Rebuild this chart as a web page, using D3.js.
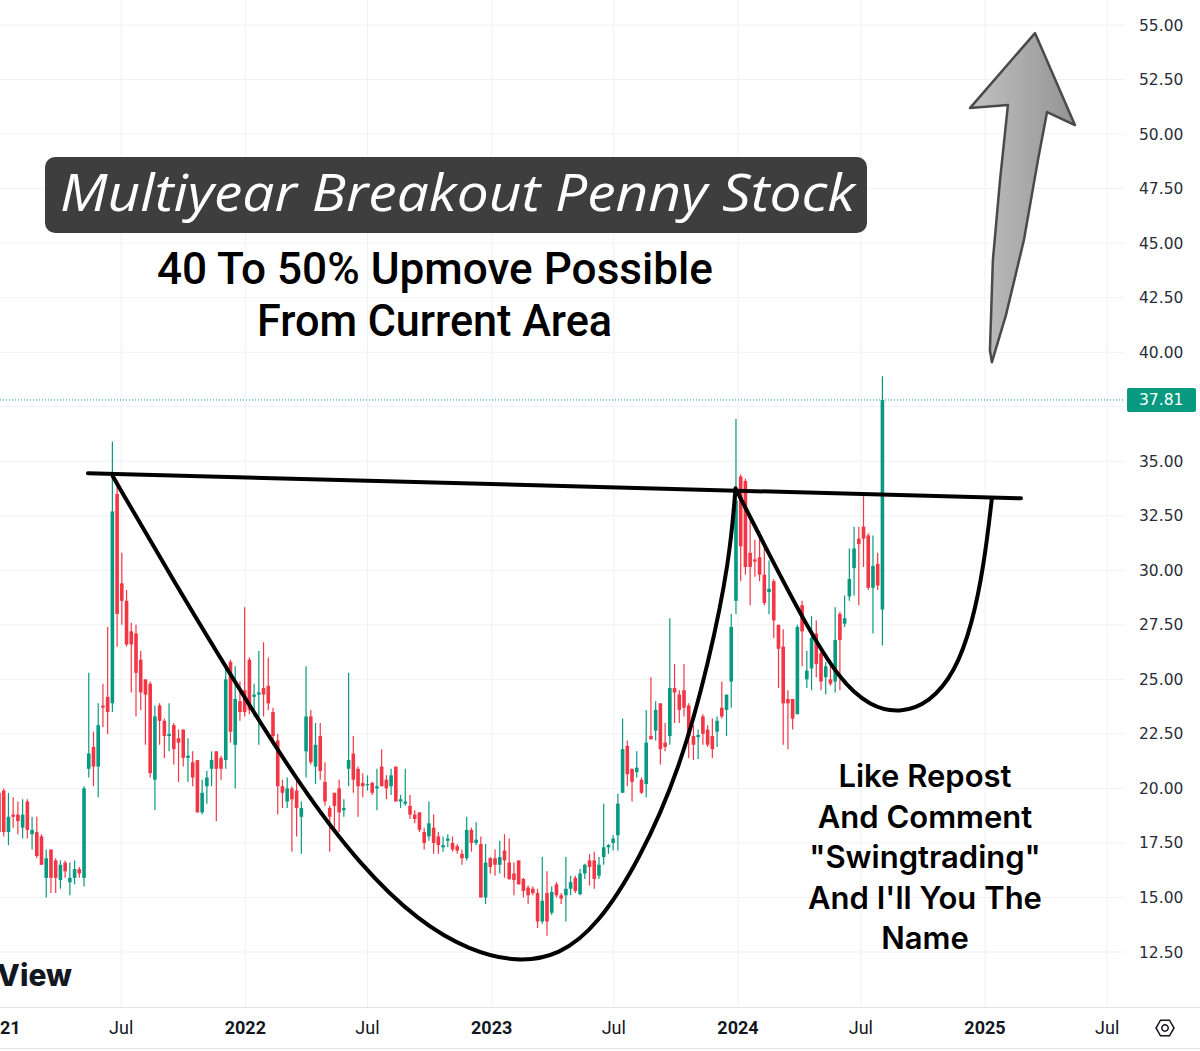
<!DOCTYPE html>
<html>
<head>
<meta charset="utf-8">
<script src="https://cdn.jsdelivr.net/npm/d3@7"></script>
<style>
  body { margin: 0; background: #fff; }
  svg { display: block; }
</style>
</head>
<body>
<script>
// weekly candles, first week starts 1 Jan 2021
var startDay = new Date(2021, 0, 1);

var opens = [19.8,19.9,18.0,18.8,18.8,18.2,19.4,17.9,18.0,17.8,15.9,17.2,16.7,15.8,16.6,15.7,15.9,16.3,15.9,20.9,
  21.9,21.0,23.8,24.2,23.9,33.5,29.4,28.6,27.2,27.1,25.9,25.0,24.8,20.4,23.8,23.1,22.4,22.9,22.3,22.7,
  21.4,21.2,21.3,18.9,20.1,20.9,21.7,21.4,21.3,25.8,22.0,24.0,24.5,25.9,24.2,24.3,24.6,24.7,23.5,22.2,
  20.1,19.4,20.0,19.9,18.7,21.7,23.3,21.0,22.4,20.3,19.1,19.8,20.0,19.0,20.9,21.6,20.9,20.25,20.15,20.25,
  20.0,21.0,20.4,20.1,21.0,19.4,19.3,19.2,18.8,18.9,18.0,17.8,18.2,17.8,17.3,17.6,17.5,17.35,17.0,16.8,
  18.1,17.5,17.45,15.0,16.8,16.8,16.5,17.15,16.6,16.1,16.7,15.85,15.45,15.4,15.2,13.9,15.2,14.3,15.6,15.1,
  15.1,15.4,15.9,15.15,16.1,16.7,16.7,16.0,16.85,17.3,17.5,17.85,19.8,21.95,20.9,20.75,20.4,20.2,22.4,22.65,
  23.9,22.1,22.4,24.6,24.3,24.5,23.8,22.4,22.35,23.3,22.7,22.4,22.6,23.7,23.6,24.9,28.6,34.3,34.1,30.8,
  30.5,30.6,29.8,29.0,29.5,27.5,26.5,24.1,24.1,23.4,28.4,25.0,25.5,27.1,26.2,25.1,25.0,24.9,28.0,27.55,
  28.8,30.1,31.45,32.0,31.6,29.2,30.3,28.2];
var highs = [20.0,20.0,19.8,19.6,19.4,19.5,19.5,18.7,18.7,17.9,17.2,17.2,16.8,16.7,16.7,16.6,16.7,16.4,20.1,25.3,
  22.6,23.9,24.8,27.4,35.9,34.1,30.8,29.1,27.6,27.5,26.3,25.0,24.9,23.8,23.9,23.2,23.9,23.0,22.7,22.7,
  22.3,21.7,21.3,20.4,20.8,21.7,21.7,21.5,25.7,25.9,25.6,24.9,28.3,26.0,24.8,26.3,26.7,26.0,23.7,22.5,
  20.4,20.5,20.1,20.4,19.4,25.6,23.6,23.0,23.0,21.2,19.2,19.8,20.4,19.5,25.3,22.4,21.0,20.7,20.6,20.3,
  20.9,21.8,20.6,20.9,21.0,19.7,20.9,19.7,19.0,18.9,18.2,19.4,18.8,18.0,17.8,17.9,17.8,17.45,17.2,18.7,
  18.2,18.45,17.8,17.45,16.85,17.2,17.6,17.9,17.7,16.6,16.7,15.9,15.55,15.5,15.4,16.85,16.2,15.5,15.7,15.2,
  16.85,16.0,16.0,16.3,16.55,17.0,17.1,16.85,19.3,17.45,17.85,19.75,23.2,22.2,20.9,21.7,20.5,23.6,25.1,24.0,
  23.9,23.0,27.8,25.7,24.5,25.7,23.9,22.9,22.7,23.4,22.9,23.2,23.3,24.9,24.3,28.0,36.95,34.4,34.2,32.4,
  31.4,31.8,31.2,30.45,29.6,27.5,27.3,24.5,24.1,27.5,28.6,26.3,27.9,27.7,26.5,25.8,25.9,28.3,28.1,28.85,
  31.0,32.0,32.0,33.4,31.7,31.6,30.8,38.9];
var lows = [17.9,17.8,17.4,18.2,17.9,17.7,17.7,17.2,16.8,16.5,15.0,15.2,15.2,15.4,15.9,15.1,15.6,15.9,15.5,20.5,
  20.1,19.6,22.8,22.5,23.5,26.5,27.5,26.5,24.4,23.3,23.6,22.0,20.5,19.0,22.0,21.4,21.7,21.1,20.3,21.0,
  20.3,20.1,18.9,18.8,19.3,20.1,18.5,20.4,20.9,22.1,20.0,23.1,23.3,23.4,23.3,22.0,23.3,23.6,22.2,18.8,
  19.1,19.1,17.1,17.8,17.0,20.5,21.1,20.2,20.4,19.2,17.1,18.2,18.0,18.7,20.1,19.8,18.7,19.6,19.9,19.7,
  19.0,20.1,19.5,19.7,19.4,19.1,19.2,18.6,18.4,18.0,17.2,17.6,17.0,17.0,17.1,17.3,17.1,17.0,16.5,16.7,
  17.1,17.4,15.0,14.7,16.1,16.0,16.1,15.9,15.8,15.1,15.6,15.0,14.7,15.1,13.6,13.8,13.25,14.2,15.0,14.7,
  13.9,15.1,15.2,15.1,15.85,15.55,15.4,15.85,16.5,17.0,17.15,17.15,19.8,20.1,19.4,20.5,19.75,19.6,22.25,22.2,
  21.1,21.7,22.0,23.0,23.0,23.3,21.4,21.3,21.35,22.0,21.9,21.4,21.9,23.2,22.4,23.7,28.0,29.5,29.8,28.4,
  29.7,29.5,28.4,28.0,26.9,24.6,22.0,21.8,22.7,23.4,25.6,24.6,24.5,25.1,24.5,24.3,24.7,24.4,24.5,27.4,
  28.6,28.85,28.4,30.15,29.1,27.1,29.1,26.55];
var closes = [18.0,18.0,18.7,18.7,18.5,18.8,18.1,18.1,16.9,16.5,16.8,15.9,15.9,16.5,16.2,15.9,16.3,16.1,20.0,21.6,
  21.0,22.9,23.7,23.5,32.7,28.0,28.6,26.6,26.6,25.3,24.4,24.3,20.7,23.3,23.1,22.4,22.5,21.8,22.1,21.4,
  21.5,20.5,18.9,19.8,20.5,21.3,20.9,20.9,25.0,22.6,24.1,23.5,23.5,23.6,24.3,24.4,24.3,23.9,22.4,20.1,
  19.8,20.0,19.5,19.1,19.1,23.3,21.2,22.0,20.8,19.4,18.7,19.2,18.9,19.1,21.3,20.4,20.1,20.1,20.2,19.8,
  20.1,20.1,20.0,20.6,19.4,19.5,19.4,18.8,18.6,18.1,17.5,18.4,17.5,17.4,17.4,17.7,17.2,17.15,16.8,18.1,
  17.5,17.65,15.0,16.6,16.4,16.5,16.85,16.7,15.85,15.8,15.6,15.3,15.1,15.2,13.9,14.85,13.9,15.25,15.1,14.95,
  15.4,15.7,15.3,16.1,16.5,16.4,15.85,16.5,17.3,17.4,17.7,19.3,21.8,20.65,20.3,20.95,19.8,22.1,22.25,23.6,
  21.8,21.9,24.6,24.4,23.6,23.7,22.4,22.0,22.45,22.5,22.0,21.8,23.1,23.3,24.3,27.4,33.2,31.1,30.15,30.15,
  30.4,29.8,28.5,29.15,27.7,26.4,23.9,23.9,23.2,27.4,27.2,25.4,26.9,25.7,24.9,25.6,24.8,26.8,26.8,27.8,
  29.6,31.0,31.2,31.45,29.2,30.2,29.3,37.81];

var priceTicks = [12.5,15,17.5,20,22.5,25,27.5,30,32.5,35,37.5,40,42.5,45,47.5,50,52.5,55];
var timeTicks = [[2021,0,"2021"],[2021,6,"Jul"],[2022,0,"2022"],[2022,6,"Jul"],[2023,0,"2023"],[2023,6,"Jul"],
  [2024,0,"2024"],[2024,6,"Jul"],[2025,0,"2025"],[2025,6,"Jul"]];
var lastPrice = 37.81;

// drawn annotations: [decimal year, price]
var resistance = [[2021.361,34.45],[2025.146,33.30]];
var bigCup = [[2021.462,34.31],[2021.714,29.40],[2021.978,24.50],[2022.221,20.14],[2022.465,16.47],[2022.708,13.85],
  [2022.911,12.57],[2023.101,12.02],[2023.276,12.34],[2023.430,13.72],[2023.600,16.70],[2023.763,20.83],
  [2023.884,25.87],[2023.966,30.46],[2023.990,33.76]];
var handle = [[2023.994,33.67],[2024.128,30.69],[2024.270,27.61],[2024.412,24.95],[2024.534,23.76],[2024.655,23.44],
  [2024.777,23.94],[2024.878,25.32],[2024.947,27.48],[2024.996,30.23],[2025.028,33.30]];
var arrowPts = [[2025.203,54.63],[2025.365,50.41],[2025.252,51.01],[2025.215,48.81],[2025.158,45.14],[2025.085,41.70],
  [2025.028,39.54],[2025.020,40.09],[2025.032,44.22],[2025.061,47.89],[2025.093,51.33],[2024.939,51.19]];

var W = 1200, H = 1051;
var paneW = 1125, paneH = 1007;
var upColor = "#089981", downColor = "#f23645";

var x = d3.scaleTime()
    .domain([new Date(2021, 0, 1), new Date(2025, 0, 1)])
    .range([-1, 985]);
var y = d3.scaleLinear()
    .domain([12.5, 55])
    .range([952, 25]);

function yearDate(v) {
  var y0 = Math.floor(v);
  var a = new Date(y0, 0, 1), b = new Date(y0 + 1, 0, 1);
  return new Date(+a + (v - y0) * (b - a));
}

var candles = opens.map(function(o, i) {
  return {date: d3.timeDay.offset(startDay, 7 * i), o: o, h: highs[i], l: lows[i], c: closes[i]};
});

var svg = d3.select("body").append("svg")
    .attr("width", W)
    .attr("height", H)
    .style("font-family", "'DejaVu Sans', sans-serif");

svg.append("defs").append("clipPath").attr("id", "pane")
  .append("rect").attr("x", 0).attr("y", 0).attr("width", paneW).attr("height", paneH);

var pane = svg.append("g").attr("clip-path", "url(#pane)");

// grid
pane.selectAll("line.hgrid").data(priceTicks).enter()
  .append("line")
    .attr("class", "hgrid")
    .attr("x1", 0).attr("x2", paneW)
    .attr("y1", function(d) { return y(d); })
    .attr("y2", function(d) { return y(d); })
    .attr("stroke", "#f0f1f5").attr("stroke-width", 1);

pane.selectAll("line.vgrid").data(timeTicks).enter()
  .append("line")
    .attr("class", "vgrid")
    .attr("x1", function(d) { return x(new Date(d[0], d[1], 1)); })
    .attr("x2", function(d) { return x(new Date(d[0], d[1], 1)); })
    .attr("y1", 0).attr("y2", paneH)
    .attr("stroke", "#f0f1f5").attr("stroke-width", 1);

// last price dotted line
pane.append("line")
    .attr("x1", 0).attr("x2", paneW)
    .attr("y1", y(lastPrice)).attr("y2", y(lastPrice))
    .attr("stroke", upColor).attr("stroke-width", 1)
    .attr("stroke-dasharray", "1,2");

// candles
var cg = pane.selectAll("g.candle").data(candles).enter()
  .append("g").attr("class", "candle");

cg.append("line")
    .attr("x1", function(d) { return x(d.date); })
    .attr("x2", function(d) { return x(d.date); })
    .attr("y1", function(d) { return y(d.h); })
    .attr("y2", function(d) { return y(d.l); })
    .attr("stroke", function(d) { return d.c >= d.o ? upColor : downColor; })
    .attr("stroke-width", 1.2);

cg.append("rect")
    .attr("x", function(d) { return x(d.date) - 1.8; })
    .attr("width", 3.6)
    .attr("y", function(d) { return y(Math.max(d.o, d.c)); })
    .attr("height", function(d) { return Math.max(1.2, Math.abs(y(d.o) - y(d.c))); })
    .attr("fill", function(d) { return d.c >= d.o ? upColor : downColor; });

// pattern lines
var line = d3.line()
    .x(function(d) { return x(yearDate(d[0])); })
    .y(function(d) { return y(d[1]); })
    .curve(d3.curveBasis);

[resistance, bigCup, handle].forEach(function(pts) {
  svg.append("path")
      .attr("d", line(pts))
      .attr("fill", "none")
      .attr("stroke", "#000")
      .attr("stroke-width", 4)
      .attr("stroke-linecap", "round");
});

// arrow
var grad = svg.select("defs").append("linearGradient")
    .attr("id", "arrowFill").attr("x1", 0).attr("y1", 0).attr("x2", 1).attr("y2", 0);
grad.append("stop").attr("offset", "0%").attr("stop-color", "#c2c2c2");
grad.append("stop").attr("offset", "100%").attr("stop-color", "#939393");

svg.append("path")
    .attr("d", d3.line()
        .x(function(d) { return x(yearDate(d[0])); })
        .y(function(d) { return y(d[1]); })(arrowPts) + "Z")
    .attr("fill", "url(#arrowFill)")
    .attr("stroke", "#4a4a4a")
    .attr("stroke-width", 2.5)
    .attr("stroke-linejoin", "round");

// price axis (label hidden where the last price tag sits)
svg.selectAll("text.ptick")
    .data(priceTicks.filter(function(d) { return Math.abs(d - lastPrice) > 1; }))
  .enter()
  .append("text")
    .attr("class", "ptick")
    .attr("x", 1139)
    .attr("y", function(d) { return y(d) + 5.5; })
    .attr("font-size", 15.5)
    .attr("fill", "#2a2e39")
    .text(function(d) { return d3.format(".2f")(d); });

svg.append("rect")
    .attr("x", 1127).attr("y", y(lastPrice) - 12)
    .attr("width", 69).attr("height", 24)
    .attr("rx", 2)
    .attr("fill", upColor);
svg.append("text")
    .attr("x", 1139).attr("y", y(lastPrice) + 5.5)
    .attr("font-size", 15.5)
    .attr("fill", "#fff")
    .text(d3.format(".2f")(lastPrice));

// time axis
svg.append("line").attr("x1", 0).attr("x2", W).attr("y1", paneH + 0.5).attr("y2", paneH + 0.5)
    .attr("stroke", "#e0e3eb");
svg.append("line").attr("x1", 0).attr("x2", W).attr("y1", 1048.5).attr("y2", 1048.5)
    .attr("stroke", "#e0e3eb");

svg.selectAll("text.ttick").data(timeTicks).enter()
  .append("text")
    .attr("class", "ttick")
    .attr("x", function(d) { return x(new Date(d[0], d[1], 1)) + (d[1] === 0 && d[0] === 2021 ? 1 : 0); })
    .attr("y", 1034)
    .attr("text-anchor", "middle")
    .attr("font-family", "Roboto, sans-serif")
    .attr("font-size", 18)
    .attr("font-weight", function(d) { return d[1] === 0 ? 700 : 400; })
    .attr("fill", "#131722")
    .text(function(d) { return d[2]; });

// settings gear
var gear = svg.append("g").attr("transform", "translate(1165,1028)");
gear.append("path")
    .attr("d", d3.range(6).map(function(k) {
      var a = Math.PI / 3 * k;
      return (k ? "L" : "M") + (9 * Math.cos(a)).toFixed(2) + "," + (9 * Math.sin(a)).toFixed(2);
    }).join("") + "Z")
    .attr("fill", "none").attr("stroke", "#131722").attr("stroke-width", 1.5);
gear.append("circle").attr("r", 3.2).attr("fill", "none").attr("stroke", "#131722").attr("stroke-width", 1.5);

// watermark
svg.append("text")
    .attr("x", 72).attr("y", 986)
    .attr("text-anchor", "end")
    .attr("font-family", "Inter, sans-serif")
    .attr("font-size", 30)
    .attr("font-weight", 800)
    .attr("fill", "#131722")
    .text("TradingView");

// title box
svg.append("rect")
    .attr("x", 45).attr("y", 157)
    .attr("width", 822).attr("height", 76)
    .attr("rx", 10)
    .attr("fill", "#3e3e3e");
svg.append("text")
    .attr("x", 60).attr("y", 211)
    .attr("font-family", "'Open Sans', sans-serif")
    .attr("font-style", "italic")
    .attr("font-size", 52)
    .attr("fill", "#fff")
    .attr("textLength", 795)
    .attr("lengthAdjust", "spacingAndGlyphs")
    .text("Multiyear Breakout Penny Stock");

var sub = [["40 To 50% Upmove Possible", 157, 284, 556], ["From Current Area", 257, 336, 355]];
sub.forEach(function(s) {
  svg.append("text")
      .attr("x", s[1]).attr("y", s[2])
      .attr("font-family", "Roboto, sans-serif")
      .attr("font-weight", 500)
      .attr("font-size", 44)
      .attr("fill", "#000")
      .attr("textLength", s[3])
      .attr("lengthAdjust", "spacingAndGlyphs")
      .text(s[0]);
});

var note = ["Like Repost", "And Comment", "\"Swingtrading\"", "And I'll You The", "Name"];
svg.selectAll("text.note").data(note).enter()
  .append("text")
    .attr("class", "note")
    .attr("x", 925)
    .attr("y", function(d, i) { return 787 + i * 40.5; })
    .attr("text-anchor", "middle")
    .attr("font-family", "Inter, sans-serif")
    .attr("font-weight", 600)
    .attr("font-size", 31)
    .attr("fill", "#000")
    .text(function(d) { return d; });
</script>
</body>
</html>
